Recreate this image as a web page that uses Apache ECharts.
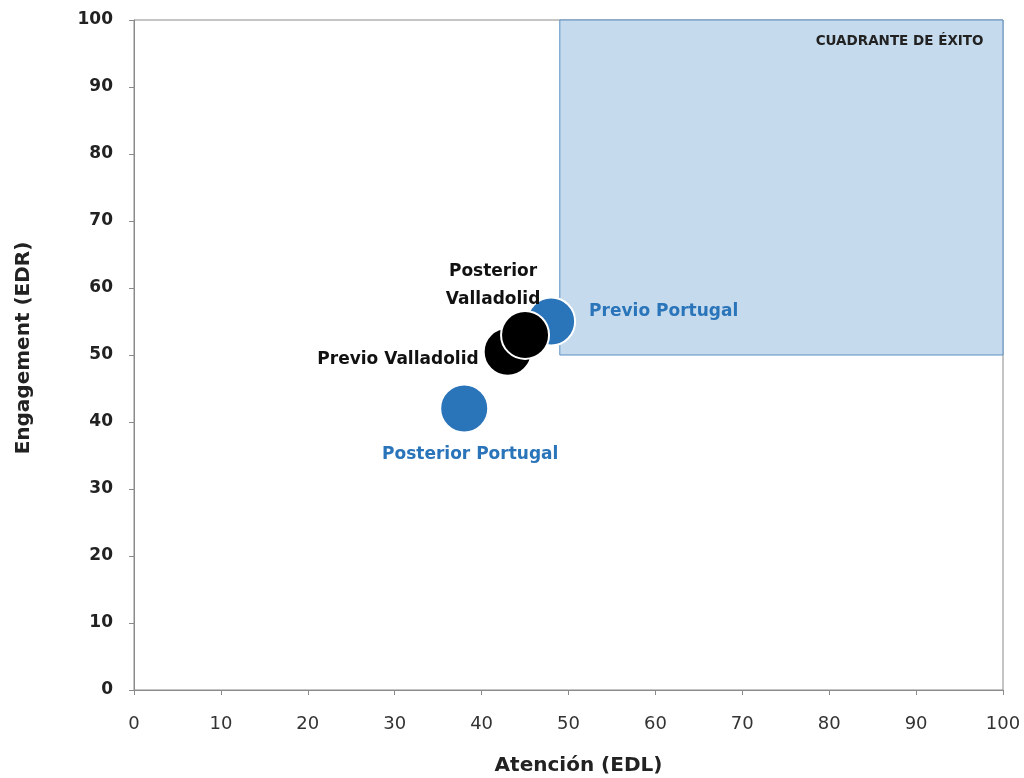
<!DOCTYPE html>
<html>
<head>
<meta charset="utf-8">
<script src="https://cdn.jsdelivr.net/npm/echarts@6/dist/echarts.min.js"></script>
<style>html,body{margin:0;padding:0;background:#fff}#c{width:1024px;height:778px}</style>
</head>
<body>
<div id="c"></div>
<script>
var portugalNames = ['Previo Portugal', 'Posterior Portugal'];
var portugalX = [48, 38];
var portugalY = [55, 42];
var valladolidNames = ['Previo Valladolid', 'Posterior Valladolid'];
var valladolidX = [43, 45];
var valladolidY = [50.5, 53];
var quadrantMin = [49, 50];
var quadrantMax = [100, 100];
var quadrantLabel = 'CUADRANTE DE ÉXITO';
var xTitle = 'Atención (EDL)';
var yTitle = 'Engagement (EDR)';

var BLUE = '#2a74ba';
var FONT = '"DejaVu Sans", "Liberation Sans", sans-serif';

var portugalLabels = [
  {show: true, position: 'right', distance: 13, offset: [0, -10], color: BLUE},
  {show: true, position: 'bottom', distance: 12, offset: [6, 0], color: BLUE}
];
var valladolidLabels = [
  {show: true, position: 'left', distance: 4, offset: [0, 8], color: '#111'},
  {show: true, position: 'top', distance: 2, offset: [-32, 6], color: '#111', align: 'center',
   formatter: 'Posterior\nValladolid', lineHeight: 28}
];

function build(names, xs, ys, labels) {
  return names.map(function (n, i) {
    var lab = Object.assign({formatter: '{b}', fontFamily: FONT, fontWeight: 'bold', fontSize: 17}, labels[i]);
    return {name: n, value: [xs[i], ys[i]], label: lab};
  });
}

var chart = echarts.init(document.getElementById('c'));
chart.setOption({
  animation: false,
  backgroundColor: '#fff',
  grid: {left: 134, right: 21, top: 20, bottom: 88, show: true, borderColor: '#8a8a8a', borderWidth: 1,
         containLabel: false, outerBoundsMode: 'none'},
  xAxis: {
    type: 'value', min: 0, max: 100, interval: 10,
    name: xTitle, nameLocation: 'middle', nameGap: 66,
    nameTextStyle: {fontFamily: FONT, fontWeight: 'bold', fontSize: 20, color: '#222', padding: [0, 0, 0, 20]},
    axisLine: {show: true, lineStyle: {color: '#8a8a8a'}},
    axisTick: {show: true, length: 5, lineStyle: {color: '#8a8a8a'}},
    axisLabel: {fontFamily: FONT, fontSize: 18, color: '#333', margin: 25},
    splitLine: {show: false}
  },
  yAxis: {
    type: 'value', min: 0, max: 100, interval: 10,
    name: yTitle, nameLocation: 'middle', nameGap: 100, nameRotate: 90,
    nameTextStyle: {fontFamily: FONT, fontWeight: 'bold', fontSize: 20, color: '#222', padding: [0, 0, 0, 14]},
    axisLine: {show: true, lineStyle: {color: '#8a8a8a'}},
    axisTick: {show: true, length: 5, lineStyle: {color: '#8a8a8a'}},
    axisLabel: {fontFamily: FONT, fontSize: 17, fontWeight: 'bold', color: '#222', margin: 21},
    splitLine: {show: false}
  },
  series: [
    {
      name: 'Portugal', type: 'scatter', symbolSize: 48,
      itemStyle: {color: BLUE, borderColor: '#fff', borderWidth: 2, opacity: 1},
      data: build(portugalNames, portugalX, portugalY, portugalLabels),
      markArea: {
        silent: true,
        itemStyle: {color: '#c5daec', borderColor: '#5a8fc6', borderWidth: 1},
        label: {show: true, position: 'insideTopRight', distance: 14, offset: [-6, 1],
          formatter: quadrantLabel,
          fontFamily: FONT, fontWeight: 'bold', fontSize: 13.5, color: '#222'},
        data: [[{name: quadrantLabel, coord: quadrantMin}, {coord: quadrantMax}]]
      },
      z: 2
    },
    {
      name: 'Valladolid', type: 'scatter', symbolSize: 48,
      itemStyle: {color: '#000', borderColor: '#fff', borderWidth: 2, opacity: 1},
      data: build(valladolidNames, valladolidX, valladolidY, valladolidLabels),
      z: 3
    }
  ]
});
</script>
</body>
</html>
